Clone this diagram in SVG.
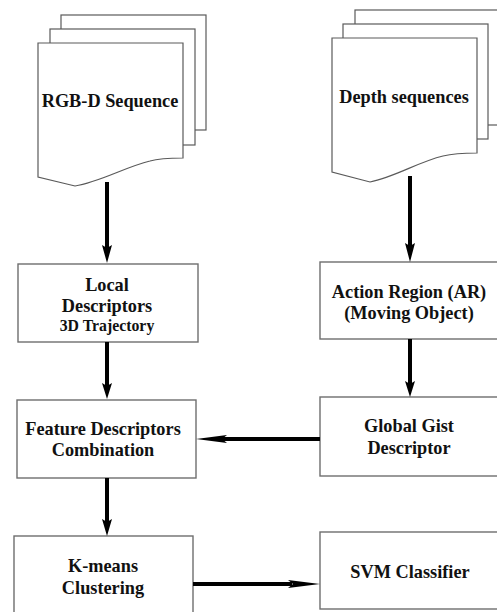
<svg xmlns="http://www.w3.org/2000/svg" width="497" height="612" viewBox="0 0 497 612">
<defs>
<style>
.box{fill:#fff;stroke:#6e6e6e;stroke-width:1.4}
.doc{fill:#fff;stroke:#5a5a5a;stroke-width:1.2}
.t{font-family:"Liberation Serif","Times New Roman",serif;font-weight:bold;font-size:18.3px;fill:#111;text-anchor:middle}
.s{font-size:15.8px}
.c{stroke:#000;stroke-width:4;fill:none}
</style>
</defs>

<g id="rgbd">
<rect class="doc" x="61" y="15" width="145" height="115"/>
<rect class="doc" x="50" y="29" width="145" height="116"/>
<path class="doc" d="M38,43 L183,43 L183,158 C170,158 160,158 150,161 C125,167 100,182 75,186 L38,177 Z"/>
<text class="t" x="110" y="107">RGB-D Sequence</text>
</g>

<g id="depth">
<rect class="doc" x="355" y="10" width="150" height="115"/>
<rect class="doc" x="343" y="24" width="145" height="115"/>
<path class="doc" d="M332,38 L477,38 L477,153 C465,153 455,153 443,156 C418,162 395,177 370,182 L332,172 Z"/>
<text class="t" x="404" y="103">Depth sequences</text>
</g>

<g id="local">
<rect class="box" x="18" y="264" width="180" height="78"/>
<text class="t" x="107" y="291">Local</text>
<text class="t" x="107" y="312">Descriptors</text>
<text class="t s" x="107" y="331">3D Trajectory</text>
</g>

<g id="ar">
<rect class="box" x="320" y="262" width="190" height="77"/>
<text class="t" x="409" y="298">Action Region (AR)</text>
<text class="t" x="409" y="319">(Moving Object)</text>
</g>

<g id="fdc">
<rect class="box" x="17" y="400" width="179" height="78"/>
<text class="t" x="103" y="435">Feature Descriptors</text>
<text class="t" x="103" y="456">Combination</text>
</g>

<g id="gist">
<rect class="box" x="320" y="397" width="190" height="79"/>
<text class="t" x="409" y="432">Global Gist</text>
<text class="t" x="409" y="454">Descriptor</text>
</g>

<g id="kmeans">
<rect class="box" x="14" y="536" width="179" height="90"/>
<text class="t" x="103" y="572">K-means</text>
<text class="t" x="103" y="594">Clustering</text>
</g>

<g id="svm">
<rect class="box" x="320" y="532" width="190" height="77"/>
<text class="t" x="410" y="578">SVM Classifier</text>
</g>

<g id="connectors">
<line class="c" x1="107" y1="182" x2="107" y2="250"/>
<path d="M102,245 L107,248 L112,245 L107,263 Z" fill="#000"/>
<line class="c" x1="410" y1="176" x2="410" y2="248"/>
<path d="M405,243 L410,246 L415,243 L410,262 Z" fill="#000"/>
<line class="c" x1="107" y1="342" x2="107" y2="388"/>
<path d="M102,383 L107,386 L112,383 L107,399 Z" fill="#000"/>
<line class="c" x1="410" y1="339" x2="410" y2="386"/>
<path d="M405,381 L410,384 L415,381 L410,397 Z" fill="#000"/>
<line class="c" x1="107" y1="478" x2="107" y2="524"/>
<path d="M102,519 L107,522 L112,519 L107,536 Z" fill="#000"/>
<line class="c" x1="320" y1="439" x2="222" y2="439"/>
<path d="M227,435 L222,439 L227,443 L196,439 Z" fill="#000"/>
<line class="c" x1="193" y1="584" x2="292" y2="584"/>
<path d="M288,580 L293,584 L288,588 L320,584 Z" fill="#000"/>
</g>
</svg>
